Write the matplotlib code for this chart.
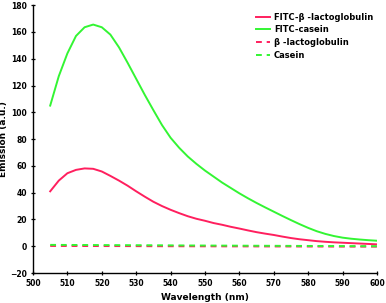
import matplotlib
matplotlib.use("Agg")
import matplotlib.pyplot as plt

wavelength = [505, 507.5, 510, 512.5, 515, 517.5, 520, 522.5, 525, 527.5, 530, 532.5, 535, 537.5,
              540, 542.5, 545, 547.5, 550, 552.5, 555, 557.5, 560, 562.5, 565, 567.5, 570, 572.5,
              575, 577.5, 580, 582.5, 585, 587.5, 590, 592.5, 595, 597.5, 600]
fitc_casein = [105, 127, 144, 157, 163.5, 165.5, 163.5, 158, 148.5, 137, 125, 113, 101.6, 90.5,
               81, 73.5, 67, 61.5, 56.5, 52, 47.5, 43.5, 39.5, 35.8, 32.3, 29, 25.8, 22.6,
               19.5, 16.5, 13.7, 11.2, 9.2, 7.6, 6.4, 5.6, 5, 4.5, 4.1]
fitc_blg = [41, 49, 54.5, 57, 58.1, 57.8, 55.8, 52.5, 49, 45.2, 41, 37, 33.2, 30,
            27.2, 24.7, 22.4, 20.5, 19, 17.3, 16, 14.5, 13.2, 11.8, 10.5, 9.4, 8.4, 7.2,
            6.1, 5.2, 4.5, 3.8, 3.3, 2.9, 2.6, 2.3, 2.0, 1.7, 1.4]

wavelength_ctrl = [505, 515, 525, 535, 545, 555, 565, 575, 585, 595, 600]
blg = [0.2, 0.15, 0.1, 0.0, -0.05, -0.1, -0.15, -0.2, -0.25, -0.3, -0.3]
casein = [1.0, 0.9, 0.8, 0.7, 0.55, 0.45, 0.35, 0.25, 0.15, 0.05, 0.0]

labels = ["FITC-\u03b2 -lactoglobulin", "FITC-casein", "\u03b2 -lactoglobulin", "Casein"]
red = "#FF1F5E"
green = "#33F533"

fig = plt.figure(figsize=(3.86, 3.03), dpi=100)
ax = fig.add_axes([0.0855, 0.099, 0.891, 0.884])

ax.plot(wavelength, fitc_blg, color=red, lw=1.4, label=labels[0])
ax.plot(wavelength, fitc_casein, color=green, lw=1.4, label=labels[1])
ax.plot(wavelength_ctrl, blg, color=red, lw=1.4, ls=(0, (3, 2.5)), label=labels[2])
ax.plot(wavelength_ctrl, casein, color=green, lw=1.4, ls=(0, (3, 2.5)), label=labels[3])

ax.set_xlim(500, 600)
ax.set_ylim(-20, 180)
ax.set_xticks(range(500, 601, 10))
ax.set_yticks(range(-20, 181, 20))
for s in ["top", "right"]:
    ax.spines[s].set_visible(False)
for s in ["left", "bottom"]:
    ax.spines[s].set_linewidth(1.0)
ax.tick_params(direction="inout", length=3.5, width=0.9, labelsize=5.5, pad=2.5)
for t in ax.get_xticklabels() + ax.get_yticklabels():
    t.set_fontweight("bold")

ax.set_xlabel("Wavelength (nm)", fontsize=6.5, fontweight="bold")
ax.xaxis.set_label_coords(0.5, -0.075)
ax.set_ylabel("Emission (a.u.)", fontsize=6.5, fontweight="bold")
ax.yaxis.set_label_coords(-0.073, 0.5)

leg = ax.legend(loc="upper left", bbox_to_anchor=(0.64, 0.985), frameon=False,
                prop={"size": 6, "weight": "bold"}, handlelength=1.6,
                handletextpad=0.5, labelspacing=0.45, borderaxespad=0)

fig.savefig("out.png", dpi=100)
